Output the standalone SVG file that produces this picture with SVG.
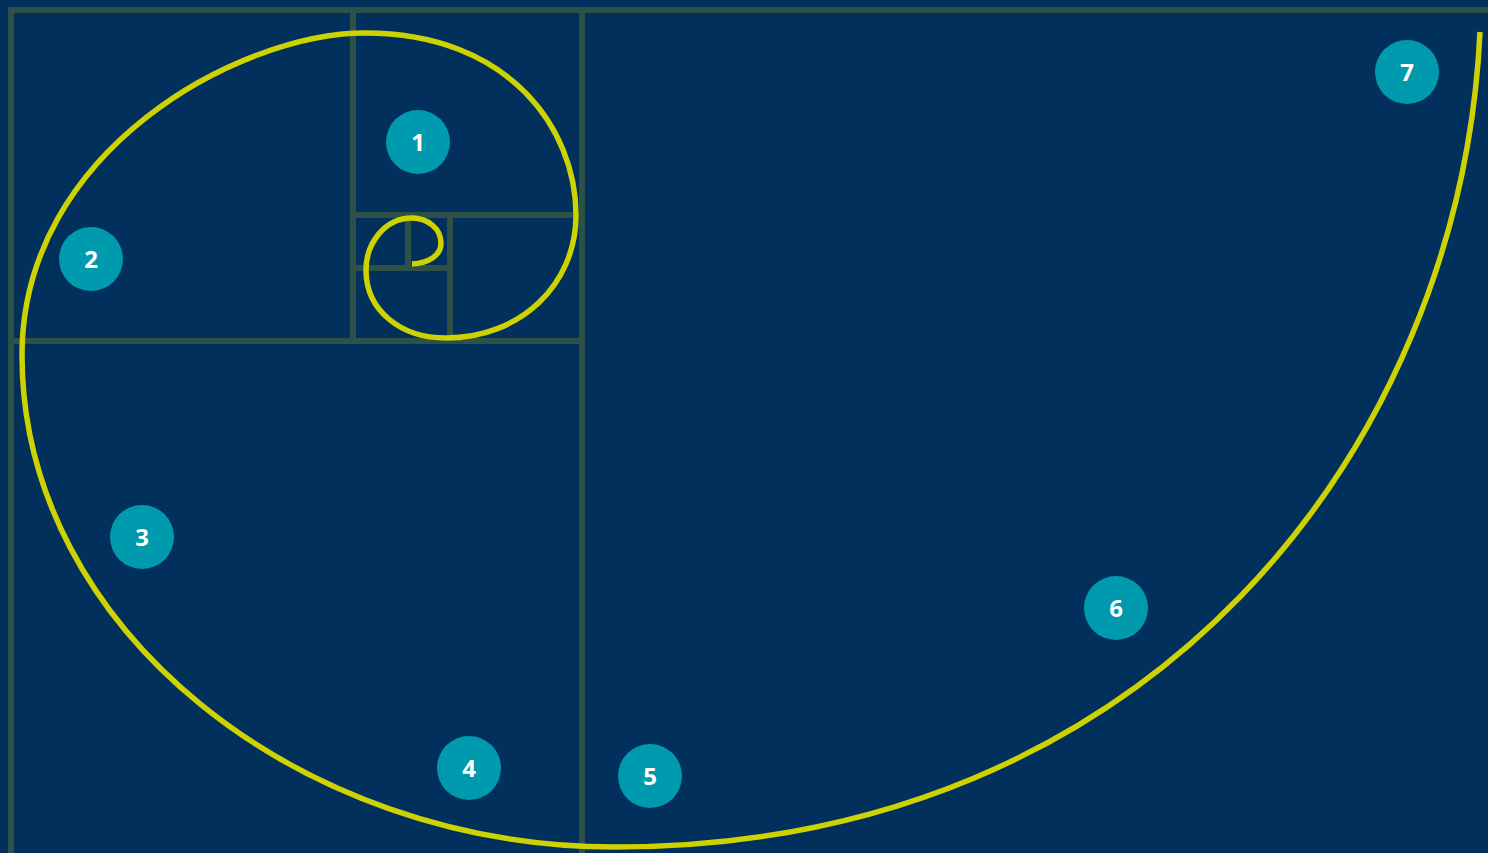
<svg xmlns="http://www.w3.org/2000/svg" width="1488" height="853" viewBox="0 0 1488 853">
<style>
.g{stroke:#2F5047;stroke-width:6;fill:none;stroke-linecap:butt}
.sp{stroke:#CDD200;stroke-width:5.5;fill:none;stroke-linecap:butt}
.c{fill:#009AAE}
.t{fill:#FFFFFF;font-family:"Open Sans","Noto Sans",sans-serif;font-weight:bold;font-size:24px;text-anchor:middle;dominant-baseline:central}
</style>
<rect width="1488" height="853" fill="#00305B"/>
<g id="grid">
<path class="g" d="M11 10H1488M11 7V853M353 10V341M582 10V853M11 341H582M353 215H576M450 215V337M408 215V268M353 268H450"/>
</g>
<g id="connectors">
<path class="sp" d="M412 264C428 263 441 256 441 243C441 229 428 218 412 218C385 218 366 243 366 270C366 310 400 338 446 338C520 338 576 285 576 215C576 130 510 33 365 33C240 33 22 150 22 355C22 630 300 847 615 847C1150 847 1460 450 1480 32"/>
</g>
<g id="n1"><circle class="c" cx="418" cy="142" r="32"/><text class="t" x="418" y="141">1</text></g>
<g id="n2"><circle class="c" cx="91" cy="259" r="32"/><text class="t" x="91" y="258">2</text></g>
<g id="n3"><circle class="c" cx="142" cy="537" r="32"/><text class="t" x="142" y="536">3</text></g>
<g id="n4"><circle class="c" cx="469" cy="768" r="32"/><text class="t" x="469" y="767">4</text></g>
<g id="n5"><circle class="c" cx="650" cy="776" r="32"/><text class="t" x="650" y="775">5</text></g>
<g id="n6"><circle class="c" cx="1116" cy="608" r="32"/><text class="t" x="1116" y="607">6</text></g>
<g id="n7"><circle class="c" cx="1407" cy="72" r="32"/><text class="t" x="1407" y="71">7</text></g>
</svg>
